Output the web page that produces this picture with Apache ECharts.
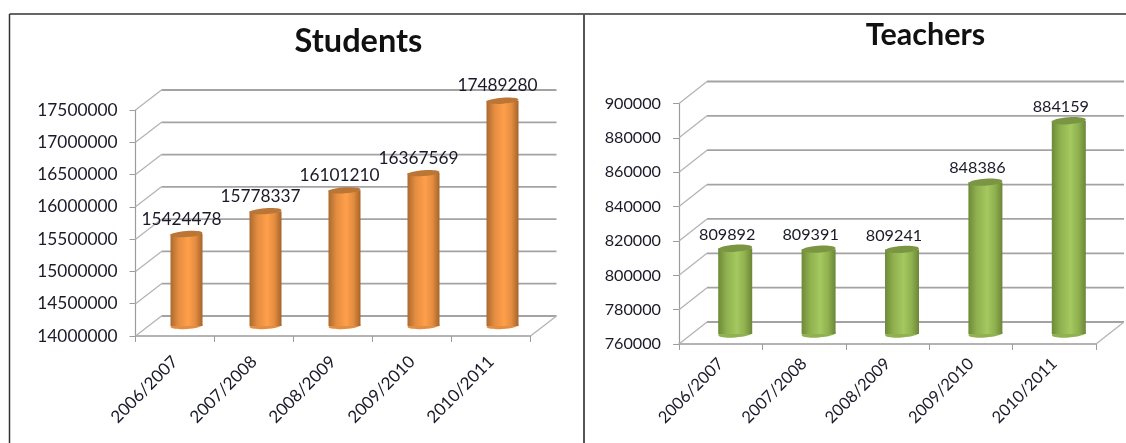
<!DOCTYPE html>
<html>
<head>
<meta charset="utf-8">
<style>html,body{margin:0;padding:0;background:#fff}#c{width:1126px;height:443px}</style>
<script src="https://cdn.jsdelivr.net/npm/echarts@6/dist/echarts.min.js"></script>
</head>
<body>
<div id="c"></div>
<script>
const categories = ['2006/2007','2007/2008','2008/2009','2009/2010','2010/2011'];
const studentValues = [15424478,15778337,16101210,16367569,17489280];
const teacherValues = [809892,809391,809241,848386,884159];
const studentTicks = [14000000,14500000,15000000,15500000,16000000,16500000,17000000,17500000];
const teacherTicks = [760000,780000,800000,820000,840000,860000,880000,900000];

const FONT = 'Lato';
const TEXT = '#1a1a2a';
const LINE = '#a3a3a3';

function wallSeries(axisIdx, ticks, dx, dy) {
  return {
    type: 'custom', xAxisIndex: axisIdx, yAxisIndex: axisIdx, z: 1, silent: true, clip: false,
    data: ticks.map(v => [0, v]),
    encode: {x: 0, y: 1},
    renderItem(params, api) {
      const band = api.size([1, 0])[0];
      const p = api.coord([0, api.value(1)]);
      const x0 = p[0] - band / 2, y = p[1], x1 = x0 + band * categories.length;
      const children = [{
        type: 'polyline',
        shape: {points: [[x0, y], [x0 + dx, y - dy]]},
        style: {stroke: '#b4b4b4', lineWidth: 1.3, fill: null}
      }, {
        type: 'polyline',
        shape: {points: [[x0 + dx, y - dy], [x1 + dx, y - dy]]},
        style: {stroke: LINE, lineWidth: 1.8, fill: null}
      }];
      if (params.dataIndex === 0) {
        children.push({
          type: 'polyline',
          shape: {points: [[x1, y], [x1 + dx, y - dy]]},
          style: {stroke: '#b4b4b4', lineWidth: 1.3, fill: null}
        });
      }
      return {type: 'group', children};
    }
  };
}

function barSeries(axisIdx, values, floor, cfg) {
  return {
    type: 'custom', xAxisIndex: axisIdx, yAxisIndex: axisIdx, z: 3, silent: true, clip: false,
    data: values.map((v, i) => [i, v]),
    encode: {x: 0, y: 1},
    renderItem(params, api) {
      const idx = api.value(0), val = api.value(1);
      const top = api.coord([idx, val]);
      const base = api.coord([idx, floor]);
      const cx = top[0] + cfg.ox, ty = top[1] + cfg.oy, by = base[1] + cfg.oy;
      const w = cfg.w, rx = w / 2, ry = cfg.ry, rot = cfg.tilt;
      const grad = {type: 'linear', x: 0, y: 0, x2: 1, y2: 0, colorStops: [
        {offset: 0, color: cfg.edge}, {offset: 0.25, color: cfg.mid},
        {offset: 0.55, color: cfg.light}, {offset: 0.78, color: cfg.mid},
        {offset: 1, color: cfg.edge2}
      ]};
      const label = String(val);
      return {type: 'group', children: [
        {type: 'ellipse', x: cx, y: by, rotation: rot, shape: {cx: 0, cy: 0, rx, ry}, style: {fill: cfg.mid}},
        {type: 'rect', shape: {x: cx - rx, y: ty, width: w, height: by - ty}, style: {fill: grad}},
        {type: 'ellipse', x: cx, y: ty, rotation: rot, shape: {cx: 0, cy: 0, rx, ry}, style: {fill: cfg.cap}},
        {type: 'text', x: cx + cfg.lx, y: ty + cfg.ly, style: {
          text: label, fill: TEXT, font: cfg.labelSize + 'px ' + FONT, align: 'center', verticalAlign: 'middle'
        }}
      ]};
    }
  };
}

const chart = echarts.init(document.getElementById('c'), null, {renderer: 'canvas'});

const orange = {ox: 11.5, oy: -10, w: 32, ry: 3, tilt: 0.07, edge: '#ab6a2f', edge2: '#a5642a', mid: '#e48d40', light: '#ff9f4b', cap: '#bb7535', lx: -5, ly: -15, labelSize: 17.3};
const green = {ox: 14.5, oy: -10, w: 34, ry: 3.5, tilt: 0.07, edge: '#6d8a38', edge2: '#6b8637', mid: '#90b14f', light: '#a5c860', cap: '#7b9642', lx: -8, ly: -14, labelSize: 16.2};

function xAxisOf(gridIndex, size, margin) {
  return {
    gridIndex, type: 'category', data: categories, boundaryGap: true,
    axisLine: {show: true, lineStyle: {color: '#9c9c9c', width: 1.5}},
    axisTick: {show: true, alignWithLabel: false, length: 6, lineStyle: {color: '#9c9c9c'}},
    axisLabel: {rotate: 45, interval: 0, margin, fontFamily: FONT, fontSize: size, color: TEXT}
  };
}
function yAxisOf(gridIndex, ticks, step, size, pad) {
  return {
    gridIndex, type: 'value', min: ticks[0], max: ticks[ticks.length - 1], interval: step,
    axisLine: {show: true, lineStyle: {color: '#9c9c9c', width: 1.2}},
    axisTick: {show: true, length: 6, lineStyle: {color: '#9c9c9c'}},
    axisLabel: {margin: 18, padding: [pad, 0, 0, 0], fontFamily: FONT, fontSize: size, color: TEXT, formatter: v => String(v)},
    splitLine: {show: false}
  };
}

chart.setOption({
  animation: false,
  backgroundColor: '#ffffff',
  title: [
    {text: 'Students', left: 353.5, top: 20, textAlign: 'center', textStyle: {fontFamily: FONT, fontWeight: 'bold', fontSize: 32.5, color: '#111'}},
    {text: 'Teachers', left: 920.5, top: 15, textAlign: 'center', textStyle: {fontFamily: FONT, fontWeight: 'bold', fontSize: 30.5, color: '#111'}}
  ],
  grid: [
    {left: 135.5, top: 110, width: 395, height: 226},
    {left: 679, top: 103.5, width: 417, height: 240.5}
  ],
  xAxis: [xAxisOf(0, 17, 23), xAxisOf(1, 16.5, 17)],
  yAxis: [yAxisOf(0, studentTicks, 500000, 17.3, 7), yAxisOf(1, teacherTicks, 20000, 16.2, 4)],
  series: [
    wallSeries(0, studentTicks, 26, 20),
    wallSeries(1, teacherTicks, 28, 22),
    barSeries(0, studentValues, studentTicks[0], orange),
    barSeries(1, teacherValues, teacherTicks[0], green)
  ],
  graphic: [
    {type: 'line', silent: true, shape: {x1: 9.5, y1: 14, x2: 1126, y2: 14}, style: {stroke: '#333', lineWidth: 1.5}},
    {type: 'line', silent: true, shape: {x1: 9.5, y1: 14, x2: 9.5, y2: 443}, style: {stroke: '#333', lineWidth: 1.5}},
    {type: 'line', silent: true, shape: {x1: 584, y1: 14, x2: 584, y2: 443}, style: {stroke: '#555', lineWidth: 2}}
  ]
});
</script>
</body>
</html>
